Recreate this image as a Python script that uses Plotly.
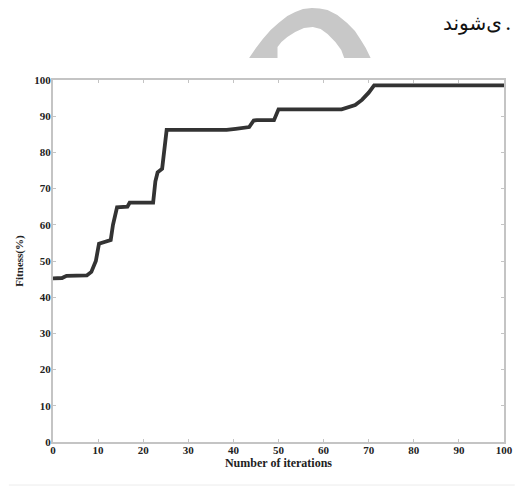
import plotly.graph_objects as go

# Data
iterations = [0, 2, 3, 7.5, 8.5, 9.5, 10.2, 12.8, 13.3, 14.2, 16.5, 17, 22.2, 22.7, 23.2,
              24.2, 25.2, 38.5, 40.5, 43.5, 44.5, 45.2, 49, 50, 64, 65.5, 67, 68.5, 70,
              71.2, 100]
fitness = [45.2, 45.3, 45.9, 46, 47, 50, 54.8, 55.8, 60, 64.8, 65, 66.1, 66.1, 72, 74.5,
           75.5, 86.2, 86.2, 86.5, 87, 88.8, 88.9, 88.9, 91.9, 91.9, 92.6, 93.1, 94.5, 96.5,
           98.5, 98.5]
x_ticks = list(range(0, 101, 10))
y_ticks = list(range(0, 101, 10))

OFF = 8  # page body margin
W, H = 516, 481
L, R, T, B = 45, 11, 72, 47
PW, PH = W - L - R, H - T - B


def px(x):
    return (x - OFF - L) / PW


def py(y):
    return (H - B - (y - OFF)) / PH


SERIF = "Liberation Serif, Times New Roman, serif"

fig = go.Figure()
fig.add_trace(go.Scatter(x=iterations, y=fitness, mode="lines",
                         line=dict(color="#333333", width=3.8),
                         showlegend=False, hoverinfo="skip"))

tickfont = dict(family=SERIF, size=11, color="#222222")
axis_common = dict(showgrid=False, zeroline=False, showline=True, linecolor="#c4c4c4",
                   linewidth=2, mirror="ticks", ticks="inside", ticklen=3, tickcolor="#c4c4c4",
                   tickfont=tickfont)

fig.update_xaxes(range=[0, 100], tickvals=x_ticks, ticktext=[f"<b>{v}</b>" for v in x_ticks],
                 ticklabelstandoff=-3,
                 title=dict(text="<b>Number of iterations</b>", standoff=2,
                            font=dict(family=SERIF, size=12, color="#222222")),
                 **axis_common)
fig.update_yaxes(range=[0, 100], tickvals=y_ticks, ticktext=[f"<b>{v}</b>" for v in y_ticks],
                 ticklabelstandoff=-2,
                 title=dict(text="<b>Fitness(%)</b>", standoff=8,
                            font=dict(family=SERIF, size=11, color="#222222")),
                 **axis_common)

# decorative grey arch (watermark) at the top
outer = [(253, 58), (260, 48), (267, 39), (275, 30), (283, 23), (292, 16), (300, 12), (308, 9), (317, 8),
         (325, 8.5), (333, 10), (343, 15), (353, 23), (361, 31), (367, 40), (372, 48), (377, 58)]
inner = [(350, 58), (347, 50), (341, 42), (333, 34), (326, 29), (318, 27), (309, 28), (300, 32),
         (292, 37), (286, 42), (282, 47), (282, 58)]
pts = outer + inner
path = "M " + " L ".join(f"{px(a):.4f},{py(b):.4f}" for a, b in pts) + " Z"
fig.add_shape(type="path", path=path, xref="paper", yref="paper",
              fillcolor="#c8c8c8", line=dict(width=0), layer="above")

# faint page line at the bottom
fig.add_shape(type="line", xref="paper", yref="paper", x0=px(8), x1=px(524), y0=py(485), y1=py(485),
              line=dict(color="#ececec", width=1))

# partial Persian text at the top right; the full stop sits on its right, as in the source
fig.add_annotation(text="ی‌شوند", xref="paper", yref="paper", x=px(513), y=py(23),
                   xanchor="right", yanchor="middle", showarrow=False,
                   font=dict(family="DejaVu Serif, DejaVu Sans, serif", size=20, color="#111111"))
fig.add_annotation(text=".", xref="paper", yref="paper", x=px(512), y=py(23),
                   xanchor="left", yanchor="middle", showarrow=False,
                   font=dict(family="DejaVu Serif, DejaVu Sans, serif", size=20, color="#111111"))

fig.update_layout(width=W, height=H, margin=dict(l=L, r=R, t=T, b=B),
                  paper_bgcolor="white", plot_bgcolor="white")

fig.write_html("out.html")
